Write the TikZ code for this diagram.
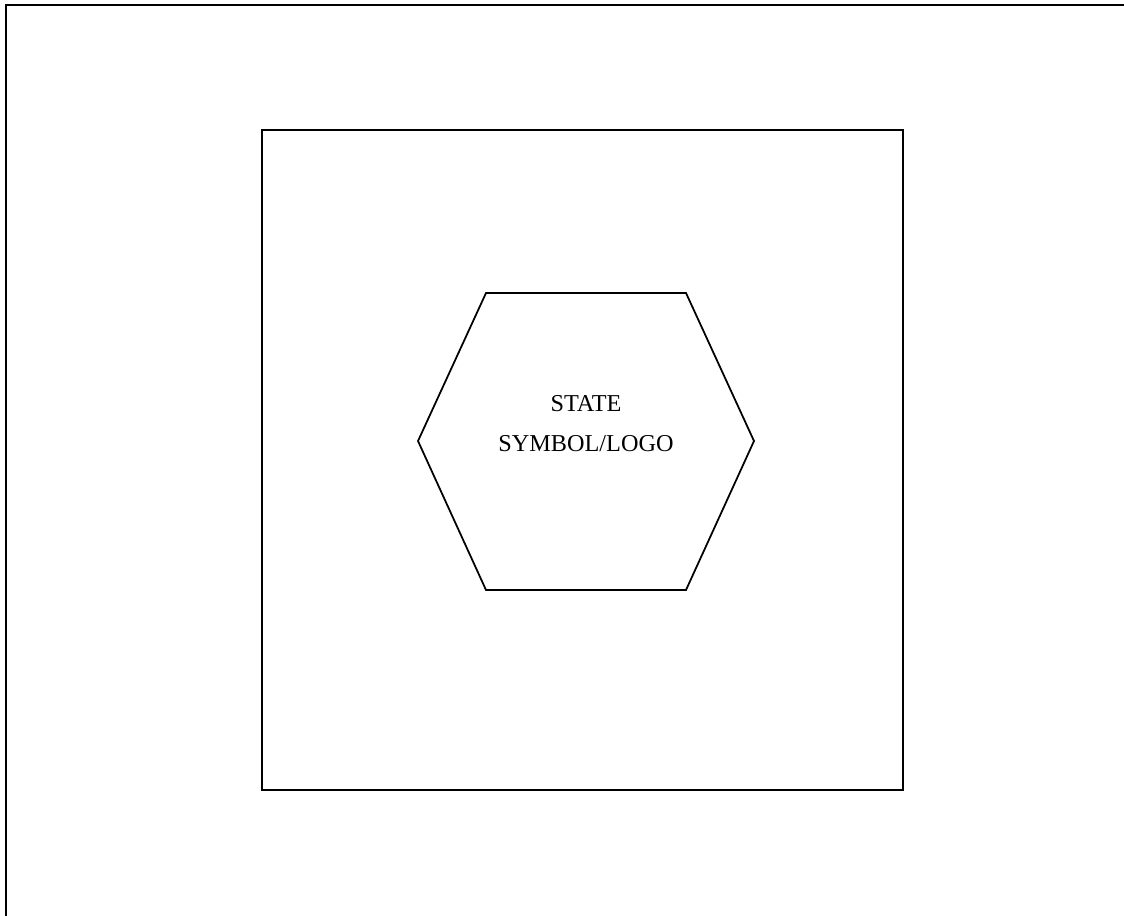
\documentclass[tikz,border=0pt]{standalone}
\usepackage{fontspec}
\setmainfont{Liberation Serif}
\tikzset{
  pageframe/.style={draw=black, line width=1.2pt},
  logoframe/.style={draw=black, line width=0.8pt},
  logohex/.style={draw=black, line width=1pt, line join=miter},
  logolabel/.style={align=center, font=\fontsize{13.8}{22.8}\selectfont, inner sep=0pt}
}
\begin{document}
\begin{tikzpicture}[x=0.02cm, y=-0.02cm]
  \useasboundingbox (0,0) rectangle (1124,915);
  \clip (0,0) rectangle (1124,915);
  \draw[pageframe] (6,5) rectangle (1140,930);
  \draw[logoframe] (262,130) rectangle (903,790);
  % hexagon corners
  \coordinate (h1) at (486,293);
  \coordinate (h2) at (686,293);
  \coordinate (h3) at (754,441);
  \coordinate (h4) at (686,590);
  \coordinate (h5) at (486,590);
  \coordinate (h6) at (418,441);
  \draw[logohex] (h1) -- (h2) -- (h3) -- (h4) -- (h5) -- (h6) -- cycle;
  \node[logolabel] (symbol) at (586,424) {STATE\\SYMBOL/LOGO};
\end{tikzpicture}
\end{document}
